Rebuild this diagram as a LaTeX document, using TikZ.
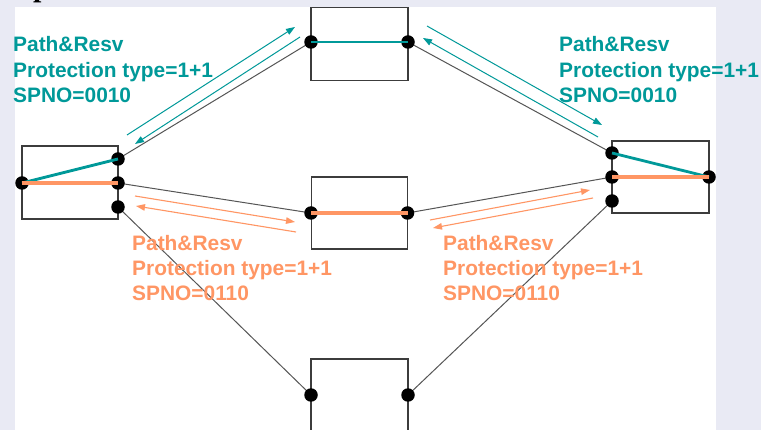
\documentclass[tikz,border=0pt]{standalone}
\usepackage{fontspec}
\setmainfont{Liberation Sans}
\newfontfamily\titlefont{Liberation Serif}
\usetikzlibrary{arrows.meta}
\definecolor{tealc}{RGB}{0,153,153}
\definecolor{orgc}{RGB}{255,150,100}
\definecolor{lav}{RGB}{233,234,244}
\definecolor{boxc}{RGB}{60,60,60}
\definecolor{linec}{RGB}{85,85,85}
\begin{document}
\begin{tikzpicture}[x=1pt,y=-1pt,
  box/.style={draw=boxc,line width=1.1pt,inner sep=0pt,outer sep=0pt,fill=white},
  dot/.style={circle,fill=black,inner sep=0pt,minimum size=13.5pt},
  link/.style={draw=linec,line width=1pt},
  tpath/.style={draw=tealc,line width=2.8pt},
  opath/.style={draw=orgc,line width=3.4pt},
  tarrow/.style={draw=tealc,line width=1pt,-{Triangle[length=9pt,width=6.5pt]}},
  oarrow/.style={draw=orgc,line width=1.1pt,-{Triangle[length=9pt,width=6.5pt]}},
  lbl/.style={anchor=base west,inner sep=0pt,font=\bfseries\fontsize{20.9}{25}\selectfont}]
\clip (0,0) rectangle (761,430);
\useasboundingbox (0,0) rectangle (761,430);
\fill[lav] (0,0) rectangle (761,430);
\fill[white] (15,7) rectangle (716,430);
\begin{scope}
  \clip (15,0) rectangle (60,7);
  \node[anchor=base west,inner sep=0pt,font=\titlefont\bfseries\fontsize{30}{30}\selectfont] (ttl) at (33,-3.6) {p};
\end{scope}
% boxes
\node[box,minimum width=96,minimum height=73] (L) at (70,182.5) {};
\node[box,minimum width=97,minimum height=73] (T) at (359.5,43.6) {};
\node[box,minimum width=96.5,minimum height=72] (M) at (359.3,213) {};
\node[box,minimum width=97,minimum height=73] (B) at (359.5,395.5) {};
\node[box,minimum width=97,minimum height=72] (R) at (660.5,177) {};
% port positions
\coordinate (l0) at (22,183);
\coordinate (l1) at (118,159);
\coordinate (l2) at (118,183);
\coordinate (l3) at (118,207);
\coordinate (t1) at (311,42);
\coordinate (t2) at (408,42);
\coordinate (m1) at (311,213);
\coordinate (m2) at (407.5,213);
\coordinate (b1) at (311,395);
\coordinate (b2) at (408,395);
\coordinate (r1) at (612,153);
\coordinate (r2) at (612,177);
\coordinate (r3) at (612,201);
\coordinate (r4) at (709,177);
% links
\draw[link] (l1) -- (t1);
\draw[link] (l2) -- (m1);
\draw[link] (l3) -- (b1);
\draw[link] (t2) -- (r1);
\draw[link] (m2) -- (r2);
\draw[link] (b2) -- (r3);
% dots
\foreach \p in {l0,l1,l2,l3,t1,t2,m1,m2,b1,b2,r1,r2,r3,r4}
  \node[dot] (d\p) at (\p) {};
% paths inside boxes
\draw[tpath] (l0) -- (l1);
\draw[opath] (l0) -- (l2);
\draw[tpath] (t1) -- (t2);
\draw[opath] (m1) -- (m2);
\draw[tpath] (r1) -- (r4);
\draw[opath] (r2) -- (r4);
% signalling arrows
\coordinate (a1s) at (127,135); \coordinate (a1e) at (295,27);
\coordinate (a2s) at (300,37);  \coordinate (a2e) at (135,144);
\coordinate (a3s) at (427,26);  \coordinate (a3e) at (602,125);
\coordinate (a4s) at (598,137); \coordinate (a4e) at (423,38);
\coordinate (a5s) at (135,196); \coordinate (a5e) at (295,222);
\coordinate (a6s) at (296,232); \coordinate (a6e) at (136,206);
\coordinate (a7s) at (430,220); \coordinate (a7e) at (590,190);
\coordinate (a8s) at (593,198); \coordinate (a8e) at (433,228);
\draw[tarrow] (a1s) -- (a1e);
\draw[tarrow] (a2s) -- (a2e);
\draw[tarrow] (a3s) -- (a3e);
\draw[tarrow] (a4s) -- (a4e);
\draw[oarrow] (a5s) -- (a5e);
\draw[oarrow] (a6s) -- (a6e);
\draw[oarrow] (a7s) -- (a7e);
\draw[oarrow] (a8s) -- (a8e);
% labels
\node[lbl,text=tealc] (tl1) at (13,52) {Path\&Resv};
\node[lbl,text=tealc] (tl2) at (13,77.5) {Protection type=1+1};
\node[lbl,text=tealc] (tl3) at (13,103) {SPNO=0010};
\node[lbl,text=tealc] (tr1) at (559,52) {Path\&Resv};
\node[lbl,text=tealc] (tr2) at (559,77.5) {Protection type=1+1};
\node[lbl,text=tealc] (tr3) at (559,103) {SPNO=0010};
\node[lbl,text=orgc] (bl1) at (132,251) {Path\&Resv};
\node[lbl,text=orgc] (bl2) at (132,276) {Protection type=1+1};
\node[lbl,text=orgc] (bl3) at (132,301) {SPNO=0110};
\node[lbl,text=orgc] (br1) at (443,251) {Path\&Resv};
\node[lbl,text=orgc] (br2) at (443,276) {Protection type=1+1};
\node[lbl,text=orgc] (br3) at (443,301) {SPNO=0110};
\end{tikzpicture}
\end{document}
